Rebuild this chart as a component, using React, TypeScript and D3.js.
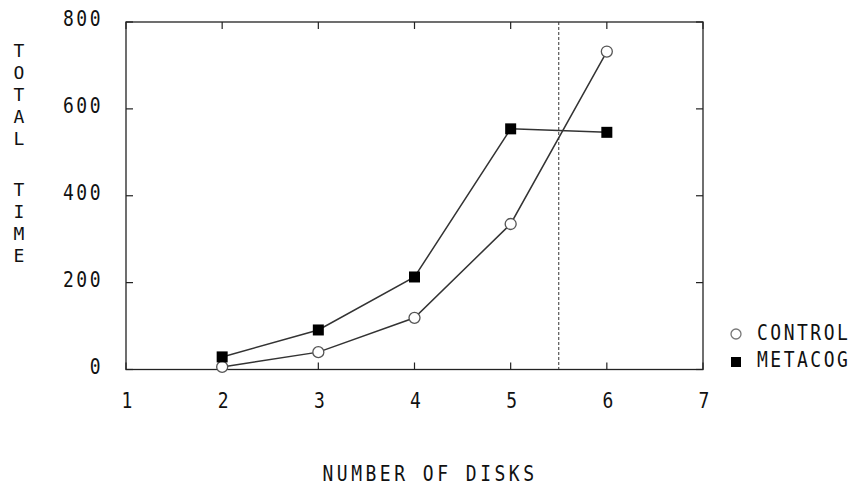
import React from "react";
import * as d3 from "d3";

const disks = [2, 3, 4, 5, 6];
const controlTime = [6, 40, 119, 335, 732];
const metacogTime = [29, 91, 213, 554, 546];
const xTicks = [1, 2, 3, 4, 5, 6, 7];
const yTicks = [0, 200, 400, 600, 800];
const cutoff = 5.5;
const seriesNames = ["CONTROL", "METACOG"];

const W = 859, H = 489;
const M = { left: 126, right: 703, top: 22, bottom: 369.5 };
const FONT = "'DejaVu Sans Mono', 'Liberation Mono', monospace";

function T(props: { x: number; y: number; anchor?: string; ls?: number; sy?: number; children: React.ReactNode }) {
  const { x, y, anchor = "start", ls = 2.5, sy = 1.18, children } = props;
  return (
    <text
      transform={`translate(${x},${y}) scale(1,${sy})`}
      textAnchor={anchor}
      fontFamily={FONT}
      fontSize={18}
      fill="#111"
      letterSpacing={ls}
    >
      {children}
    </text>
  );
}

export default function App() {
  const x = d3.scaleLinear().domain([1, 7]).range([M.left, M.right]);
  const y = d3.scaleLinear().domain([0, 800]).range([M.bottom, M.top]);
  const line = d3.line<number>().x((_, i) => x(disks[i])).y((d) => y(d));
  const tl = 7;
  return (
    <svg width={W} height={H} style={{ position: "absolute", left: 0, top: 0, background: "#fff" }}>
      <rect x={M.left} y={M.top} width={M.right - M.left} height={M.bottom - M.top} fill="none" stroke="#222" strokeWidth={1.3} />
      {xTicks.map((t) => (
        <g key={"x" + t}>
          <line x1={x(t)} x2={x(t)} y1={M.bottom} y2={M.bottom - tl} stroke="#222" strokeWidth={1.2} />
          <line x1={x(t)} x2={x(t)} y1={M.top} y2={M.top + tl} stroke="#222" strokeWidth={1.2} />
          <T x={x(t) + 1} y={408} anchor="middle" ls={0}>{t}</T>
        </g>
      ))}
      {yTicks.map((t) => (
        <g key={"y" + t}>
          <line x1={M.left} x2={M.left + tl} y1={y(t)} y2={y(t)} stroke="#222" strokeWidth={1.2} />
          <line x1={M.right} x2={M.right - tl} y1={y(t)} y2={y(t)} stroke="#222" strokeWidth={1.2} />
          <T x={103} y={y(t) + 4} anchor="end" ls={2.5}>{t}</T>
        </g>
      ))}
      <line x1={x(cutoff)} x2={x(cutoff)} y1={M.top} y2={M.bottom} stroke="#333" strokeWidth={1} strokeDasharray="3,2" />
      <path d={line(controlTime) || ""} fill="none" stroke="#333" strokeWidth={1.5} />
      <path d={line(metacogTime) || ""} fill="none" stroke="#333" strokeWidth={1.5} />
      {controlTime.map((v, i) => (
        <circle key={"c" + i} cx={x(disks[i])} cy={y(v)} r={5.5} fill="#fff" stroke="#555" strokeWidth={1.3} />
      ))}
      {metacogTime.map((v, i) => (
        <rect key={"m" + i} x={x(disks[i]) - 5.5} y={y(v) - 5.5} width={11} height={11} fill="#000" />
      ))}
      <circle cx={736} cy={334} r={5} fill="#fff" stroke="#777" strokeWidth={1.3} />
      <rect x={731} y={357} width={10} height={10} fill="#000" />
      <T x={757} y={340}>{seriesNames[0]}</T>
      <T x={757} y={367}>{seriesNames[1]}</T>
      {"TOTAL".split("").map((c, i) => (
        <T key={"a" + i} x={19} y={57 + i * 22} anchor="middle" ls={0} sy={1}>{c}</T>
      ))}
      {"TIME".split("").map((c, i) => (
        <T key={"b" + i} x={19} y={196 + i * 22} anchor="middle" ls={0} sy={1}>{c}</T>
      ))}
      <T x={430} y={481} anchor="middle" ls={3.5}>NUMBER OF DISKS</T>
    </svg>
  );
}
